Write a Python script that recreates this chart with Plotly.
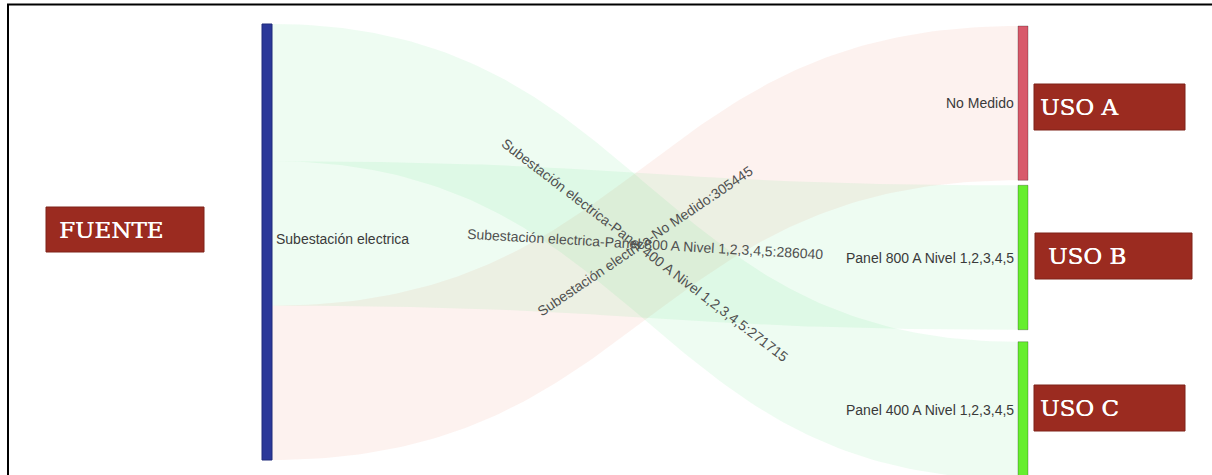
import numpy as np
import plotly.graph_objects as go

# ---- data -------------------------------------------------------------
source_name = "Subestación electrica"
target_names = ["No Medido", "Panel 800 A Nivel 1,2,3,4,5", "Panel 400 A Nivel 1,2,3,4,5"]
link_values = [305445, 286040, 271715]
target_colors = ["#d85a6b", "#66ee2e", "#66ee2e"]
link_colors = ["rgba(230,110,70,0.085)", "rgba(60,222,110,0.085)", "rgba(60,222,110,0.085)"]
source_color = "#2b3899"
# stacking order of the outgoing links on the source node, top to bottom
source_order = [2, 1, 0]
tag_labels = ["FUENTE", "USO A", "USO B", "USO C"]

# ---- layout (pixel canvas) ---------------------------------------------
W, H = 1212, 475
NODE_W = 10
SRC_X = 262
TGT_X = 1018
SRC_TOP, SRC_H = 24, 436
TGT_TOP = 26
TGT_GAPS = [5, 12]
TEXT_FONT = dict(family="Arial, Liberation Sans, sans-serif", size=14, color="#3a3a3a")
LINK_FONT = dict(family="Arial, Liberation Sans, sans-serif", size=14, color="#505050")
TAG_FILL, TAG_EDGE = "#9b2b20", "#7e2218"
TAG_FONT = dict(family="DejaVu Serif, serif", size=23, color="white",
                shadow="0.4px 0 0 white")
# tag boxes: (x0, y0, x1, y1, text x)
TAG_BOXES = [(46, 207, 204, 252, 57), (1034, 84, 1185, 130, 1038),
             (1035, 233, 1192, 279, 1046), (1034, 385, 1185, 431, 1038)]
# label slant relative to the curve tangent at mid-link
LABEL_TILT = 0.9

scale = SRC_H / sum(link_values)

# source-side spans
src_span = {}
cur = SRC_TOP
for i in source_order:
    h = link_values[i] * scale
    src_span[i] = (cur, cur + h)
    cur += h

# target node spans
tgt_span = []
cur = TGT_TOP
for i, v in enumerate(link_values):
    h = v * scale
    tgt_span.append((cur, cur + h))
    cur += h
    if i < len(TGT_GAPS):
        cur += TGT_GAPS[i]

x0, x1 = SRC_X + NODE_W, TGT_X
xm = (x0 + x1) / 2
t = np.linspace(0, 1, 120)


def bez(ya, yb):
    bx = (1 - t) ** 3 * x0 + 3 * (1 - t) ** 2 * t * xm + 3 * (1 - t) * t ** 2 * xm + t ** 3 * x1
    by = (1 - t) ** 3 * ya + 3 * (1 - t) ** 2 * t * ya + 3 * (1 - t) * t ** 2 * yb + t ** 3 * yb
    return bx, by


fig = go.Figure()
annotations = []

for i, name in enumerate(target_names):
    s0, s1 = src_span[i]
    d0, d1 = tgt_span[i]
    tx, ty = bez(s0, d0)
    bx, by = bez(s1, d1)
    fig.add_trace(go.Scatter(
        x=np.concatenate([tx, bx[::-1]]), y=np.concatenate([ty, by[::-1]]),
        mode="lines", fill="toself", fillcolor=link_colors[i],
        line=dict(width=0), hoverinfo="skip", showlegend=False))
    yc0, yc1 = (s0 + s1) / 2, (d0 + d1) / 2
    ang = np.degrees(np.arctan2(LABEL_TILT * 1.5 * (yc1 - yc0), 0.75 * (x1 - x0)))
    annotations.append(dict(
        x=xm, y=(yc0 + yc1) / 2 - 2, xref="x", yref="y", showarrow=False,
        text=f"{source_name}-{name}:{link_values[i]}", textangle=ang,
        xanchor="center", yanchor="middle", font=LINK_FONT))

shapes = []
# source node
shapes.append(dict(type="rect", xref="x", yref="y", x0=SRC_X, x1=SRC_X + NODE_W,
                   y0=SRC_TOP, y1=SRC_TOP + SRC_H, fillcolor=source_color,
                   line=dict(color="#1f2a7a", width=1)))
annotations.append(dict(x=SRC_X + NODE_W + 2, y=SRC_TOP + SRC_H / 2 - 3, xref="x", yref="y",
                        text=source_name, showarrow=False, xanchor="left",
                        yanchor="middle", font=TEXT_FONT))
# target nodes
for i, name in enumerate(target_names):
    d0, d1 = tgt_span[i]
    shapes.append(dict(type="rect", xref="x", yref="y", x0=TGT_X, x1=TGT_X + NODE_W,
                       y0=d0, y1=d1, fillcolor=target_colors[i],
                       line=dict(color="rgba(0,0,0,0.25)", width=1)))
    annotations.append(dict(x=TGT_X - 2, y=(d0 + d1) / 2, xref="x", yref="y",
                            text=name, showarrow=False, xanchor="right",
                            yanchor="middle", font=TEXT_FONT))

# tag boxes
for (bx0, by0, bx1, by1, tx0), label in zip(TAG_BOXES, tag_labels):
    shapes.append(dict(type="rect", xref="x", yref="y", x0=bx0, x1=bx1, y0=by0, y1=by1,
                       fillcolor=TAG_FILL, line=dict(color=TAG_EDGE, width=1)))
    annotations.append(dict(x=tx0, y=(by0 + by1) / 2, xref="x", yref="y", text=label,
                            showarrow=False, xanchor="left", yanchor="middle",
                            font=TAG_FONT))

# frame lines
shapes.append(dict(type="line", xref="x", yref="y", x0=7, x1=W, y0=4.5, y1=4.5,
                   line=dict(color="black", width=2)))
shapes.append(dict(type="line", xref="x", yref="y", x0=8, x1=8, y0=4, y1=H,
                   line=dict(color="black", width=2)))

fig.update_layout(
    width=W, height=H, margin=dict(l=0, r=0, t=0, b=0),
    paper_bgcolor="white", plot_bgcolor="white",
    xaxis=dict(range=[0, W], visible=False, fixedrange=True),
    yaxis=dict(range=[H, 0], visible=False, fixedrange=True),
    shapes=shapes, annotations=annotations, showlegend=False,
)

fig.write_html("out.html", config={"displayModeBar": False})
